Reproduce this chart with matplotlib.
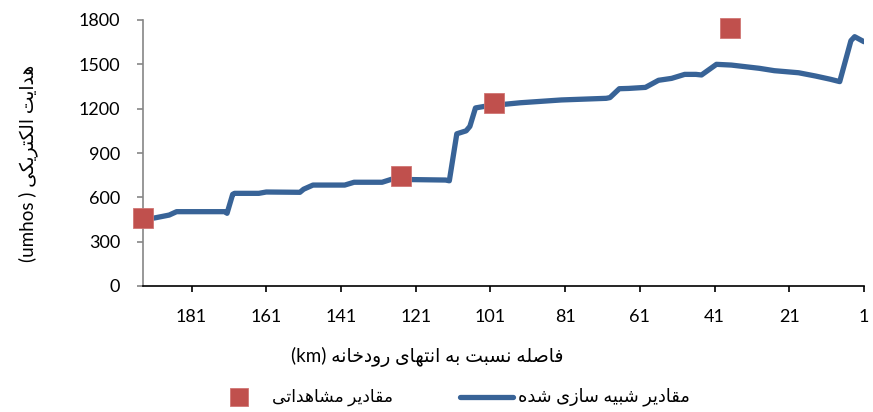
import matplotlib
matplotlib.use("Agg")
import matplotlib.pyplot as plt
from matplotlib.lines import Line2D

# simulated EC along the river (km from river end, umhos)
sim_km = [194, 191, 187, 185, 172, 171.5, 170, 169.5, 163, 161, 152, 151, 148.5,
          140, 137.5, 130, 127.5, 113, 112, 110, 107.5, 106.5, 105, 102, 93, 82,
          70, 69, 66.5, 64, 59.5, 56, 52.5, 49, 46, 44.5, 40.5, 36.5, 29, 25,
          18.5, 14, 10, 7.5, 4.5, 3.5, 1]
sim_ec = [458, 460, 480, 503, 503, 492, 620, 627, 627, 636, 634, 655, 683,
          683, 702, 702, 722, 717, 712, 1030, 1050, 1080, 1205, 1218, 1240, 1259,
          1270, 1275, 1335, 1337, 1344, 1392, 1405, 1432, 1432, 1428, 1500, 1495, 1473, 1457,
          1443, 1421, 1399, 1383, 1660, 1687, 1653]

# observed EC
obs_km = [194, 125, 100, 37]
obs_ec = [458, 744, 1236, 1744]

x_ticks = [181, 161, 141, 121, 101, 81, 61, 41, 21, 1]
y_ticks = [0, 300, 600, 900, 1200, 1500, 1800]

LINE_COLOR = "#386397"
SQ_COLOR = "#C0504D"

# presentation forms: isolated, final, initial, medial
FORMS = {
    "ا": ("\uFE8D", "\uFE8E", None, None),
    "د": ("\uFEA9", "\uFEAA", None, None),
    "ر": ("\uFEAD", "\uFEAE", None, None),
    "ز": ("\uFEAF", "\uFEB0", None, None),
    "و": ("\uFEED", "\uFEEE", None, None),
    "ب": ("\uFE8F", "\uFE90", "\uFE91", "\uFE92"),
    "ت": ("\uFE95", "\uFE96", "\uFE97", "\uFE98"),
    "خ": ("\uFEA5", "\uFEA6", "\uFEA7", "\uFEA8"),
    "س": ("\uFEB1", "\uFEB2", "\uFEB3", "\uFEB4"),
    "ش": ("\uFEB5", "\uFEB6", "\uFEB7", "\uFEB8"),
    "ص": ("\uFEB9", "\uFEBA", "\uFEBB", "\uFEBC"),
    "ف": ("\uFED1", "\uFED2", "\uFED3", "\uFED4"),
    "ق": ("\uFED5", "\uFED6", "\uFED7", "\uFED8"),
    "ل": ("\uFEDD", "\uFEDE", "\uFEDF", "\uFEE0"),
    "م": ("\uFEE1", "\uFEE2", "\uFEE3", "\uFEE4"),
    "ن": ("\uFEE5", "\uFEE6", "\uFEE7", "\uFEE8"),
    "ه": ("\uFEE9", "\uFEEA", "\uFEEB", "\uFEEC"),
    "ک": ("\uFB8E", "\uFB8F", "\uFB90", "\uFB91"),
    "ی": ("\uFBFC", "\uFBFD", "\uFBFE", "\uFBFF"),
}


def rtl(text):
    """Shape Persian letters and return them in visual (left-to-right) order."""
    out = []
    for i, c in enumerate(text):
        if c not in FORMS:
            out.append(c)
            continue
        prev = text[i - 1] if i > 0 else ""
        nxt = text[i + 1] if i + 1 < len(text) else ""
        join_prev = prev in FORMS and FORMS[prev][2] is not None
        join_next = FORMS[c][2] is not None and nxt in FORMS
        iso, fin, ini, med = FORMS[c]
        if join_prev and join_next:
            out.append(med)
        elif join_prev:
            out.append(fin)
        elif join_next:
            out.append(ini)
        else:
            out.append(iso)
    return "".join(reversed(out))


FONT = ["Lato", "DejaVu Sans"]
plt.rcParams["font.family"] = FONT

fig = plt.figure(figsize=(8.73, 4.12), dpi=100)
ax = fig.add_axes([143 / 873, 1 - 286 / 412, (864 - 143) / 873, (286 - 20) / 412])

ax.plot(sim_km, sim_ec, color=LINE_COLOR, lw=3.8, solid_joinstyle="round",
        solid_capstyle="round", zorder=3)
ax.plot(obs_km, obs_ec, ls="none", marker="s", ms=14.5, color=SQ_COLOR,
        mec="#D07573", mew=0.6, zorder=4, clip_on=False)

ax.set_xlim(194, 1)
ax.set_ylim(0, 1800)
ax.set_xticks(x_ticks)
ax.set_yticks(y_ticks)
ax.tick_params(axis="x", length=4.5, width=1.2, color="black", pad=12, labelsize=13)
ax.tick_params(axis="y", length=4.5, width=1.2, color="#868686", pad=12, labelsize=13)

for s in ["top", "right"]:
    ax.spines[s].set_visible(False)
ax.spines["left"].set_color("#868686")
ax.spines["left"].set_linewidth(1.2)
ax.spines["bottom"].set_color("black")
ax.spines["bottom"].set_linewidth(1.2)

# axis titles
fig.text(28 / 873, 1 - 163 / 412, "(umhos ) " + rtl("هدایت الکتریکی"),
         rotation=90, ha="center", va="center", fontsize=13.5)
fig.text(427 / 873, 1 - 357 / 412, "(km) " + rtl("فاصله نسبت به انتهای رودخانه"),
         ha="center", va="center", fontsize=13.5)

# legend, drawn by hand to keep Excel's spacing
ly = 1 - 397 / 412
fig.add_artist(Line2D([239 / 873], [ly], marker="s", ms=13, color=SQ_COLOR,
                      mec="#D07573", mew=0.6, ls="none"))
fig.text(272 / 873, ly, rtl("مقادیر مشاهداتی"), ha="left", va="center", fontsize=12.3)
fig.add_artist(Line2D([460 / 873, 513 / 873], [ly, ly], color=LINE_COLOR, lw=3.8,
                      solid_capstyle="round"))
fig.text(518 / 873, ly, rtl("مقادیر شبیه سازی شده"), ha="left", va="center", fontsize=12.8)

fig.savefig("out.png", dpi=100)
